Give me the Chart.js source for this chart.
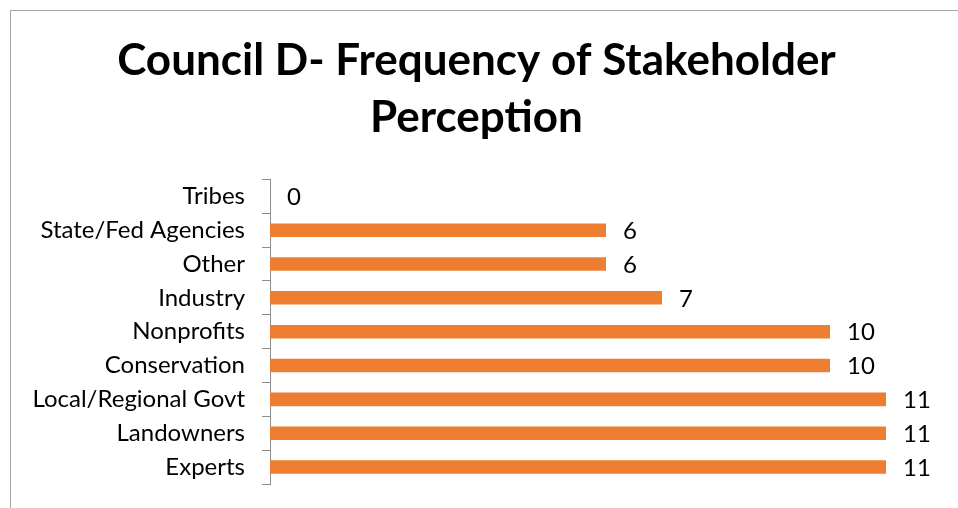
<!DOCTYPE html>
<html>
<head>
<meta charset="utf-8">
<script src="https://cdn.jsdelivr.net/npm/chart.js@4/dist/chart.umd.min.js"></script>
<style>
  html, body { margin: 0; padding: 0; background: #fff; overflow: hidden; }
  #frame {
    position: absolute; left: 10px; top: 10px;
    width: 960px; height: 520px;
    border: 1px solid #a6a6a6;
  }
</style>
</head>
<body>
<div id="frame"><canvas id="chart"></canvas></div>
<script>
// -------------------------------
// Data ---------------------------
// -------------------------------
const categories = [
  "Tribes",
  "State/Fed Agencies",
  "Other",
  "Industry",
  "Nonprofits",
  "Conservation",
  "Local/Regional Govt",
  "Landowners",
  "Experts",
];
const frequency = [0, 6, 6, 7, 10, 10, 11, 11, 11];
const titleLines = ["Council D- Frequency of Stakeholder", "Perception"];

const FONT = "Lato, Calibri, 'Open Sans', sans-serif";

// value labels at the end of each bar
const valueLabels = {
  id: "valueLabels",
  afterDatasetsDraw(chart) {
    const ctx = chart.ctx;
    const meta = chart.getDatasetMeta(0);
    ctx.save();
    ctx.font = "24px " + FONT;
    ctx.fillStyle = "#000";
    ctx.textBaseline = "middle";
    ctx.textAlign = "left";
    meta.data.forEach((bar, i) => {
      ctx.fillText(String(frequency[i]), bar.x + 17, bar.y + 1);
    });
    ctx.restore();
  },
};

const ctx = document.getElementById("chart").getContext("2d");
const chart = new Chart(ctx, {
  type: "bar",
  data: {
    labels: categories,
    datasets: [
      {
        data: frequency,
        backgroundColor: "#ed7d31",
        borderWidth: 0,
        barPercentage: 0.8,
        categoryPercentage: 0.5,
      },
    ],
  },
  options: {
    indexAxis: "y",
    responsive: true,
    maintainAspectRatio: false,
    animation: false,
    layout: { padding: { left: 0, right: 29, top: 0, bottom: 47 } },
    plugins: {
      legend: { display: false },
      tooltip: { enabled: false },
      title: {
        display: true,
        text: titleLines,
        color: "#000",
        font: { family: FONT, size: 44, weight: "bold", lineHeight: 1.3 },
        padding: { top: 21, bottom: 33 },
      },
    },
    scales: {
      x: {
        display: false,
        min: 0,
        max: 12,
      },
      y: {
        afterFit(scale) {
          scale.width = 259;
        },
        grid: {
          drawOnChartArea: false,
          drawTicks: true,
          tickLength: 8,
          color: "#8c8c8c",
        },
        border: { color: "#8c8c8c", width: 1 },
        ticks: {
          color: "#000",
          padding: 17,
          font: { family: FONT, size: 24 },
        },
      },
    },
  },
  plugins: [valueLabels],
});
</script>
</body>
</html>
